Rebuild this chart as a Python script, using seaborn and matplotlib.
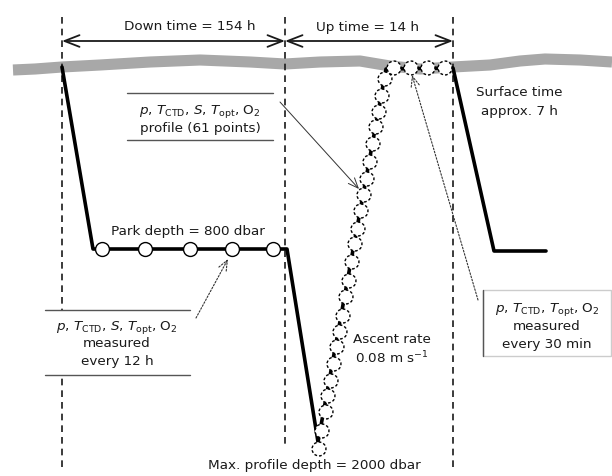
import seaborn as sns
import matplotlib.pyplot as plt
from matplotlib.patches import Rectangle

# Schematic coordinates (diagram units, y grows downward)
# Float track: descent, park, descent to max depth, ascent, surface, next descent
track_x = [62, 93, 287, 318, 386, 453, 494, 546]
track_y = [68, 250, 250, 443, 70, 69, 252, 252]

# Park-phase samples (every 12 h)
park_x = [102, 145, 190, 232, 273]
park_y = [250, 250, 250, 250, 250]

# Ascent profile samples
ascent_x = [319, 322, 326, 328, 331, 334, 337, 340, 343, 346, 349, 352,
            355, 358, 361, 364, 367, 370, 373, 376, 379, 382, 385]
ascent_y = [450, 432, 413, 397, 382, 365, 348, 333, 317, 298, 282, 263,
            245, 230, 212, 196, 180, 163, 145, 128, 113, 97, 80]

# Surface samples (every 30 min)
surf_x = [394, 411, 428, 445]
surf_y = [69, 69, 69, 69]

# Sea surface
sea_x = [13, 35, 62, 100, 150, 200, 250, 285, 320, 360, 390, 420, 453, 490, 520, 545, 580, 612]
sea_y = [71, 70, 68, 66, 63, 61, 63, 65, 63, 62, 67, 70, 68, 66, 62, 60, 61, 63]

# Phase boundaries
phase_x = [62, 285, 453]
phase_bottom = [473, 448, 470]

params_full = r"$p$, $T_{\rm CTD}$, $S$, $T_{\rm opt}$, O$_2$"
params_surf = r"$p$, $T_{\rm CTD}$, $T_{\rm opt}$, O$_2$"

sns.set_theme(style='white')
plt.rcParams['font.family'] = ['DejaVu Sans']
plt.rcParams['mathtext.fontset'] = 'dejavusans'

fig = plt.figure(figsize=(6.12, 4.77), dpi=100)
ax = fig.add_axes([0, 0, 1, 1])
ax.set_xlim(0, 612)
ax.set_ylim(477, 0)
ax.axis('off')

txt = dict(color='#1a1a1a', fontsize=9.7, ha='center', va='center', zorder=6)

# Sea surface band
sns.lineplot(x=sea_x, y=sea_y, sort=False, estimator=None, color='#a8a8a8',
             lw=8, ax=ax, zorder=1, solid_capstyle='butt')

# Phase boundaries
for xv, yb in zip(phase_x, phase_bottom):
    ax.plot([xv, xv], [18, yb], color='#1a1a1a', lw=1.2, ls=(0, (4, 3)), zorder=2)

# Duration arrows
ax.annotate('', xy=(62, 42), xytext=(285, 42),
            arrowprops=dict(arrowstyle='<->,head_length=0.9,head_width=0.35',
                            lw=1.3, color='#1a1a1a', shrinkA=0, shrinkB=0))
ax.annotate('', xy=(285, 42), xytext=(453, 42),
            arrowprops=dict(arrowstyle='<->,head_length=0.9,head_width=0.35',
                            lw=1.3, color='#1a1a1a', shrinkA=0, shrinkB=0))
ax.text(190, 27, 'Down time = 154 h', **txt)
ax.text(367, 27, 'Up time = 14 h', **txt)

# Float track
sns.lineplot(x=track_x, y=track_y, sort=False, estimator=None, color='black',
             lw=2.6, ax=ax, zorder=3)
ax.lines[-1].set_solid_joinstyle('round')

# Samples
sns.scatterplot(x=park_x, y=park_y, s=100, color='white', edgecolor='black',
                linewidth=1.0, ax=ax, zorder=4)
sns.scatterplot(x=ascent_x + surf_x, y=ascent_y + surf_y, s=100, color='white',
                edgecolor='black', linewidth=1.0, ax=ax, zorder=4)
ax.collections[-1].set_linestyle((0, (2, 1.5)))

# Profile label box
ax.plot([127, 273], [94, 94], color='#555555', lw=1)
ax.plot([127, 273], [141, 141], color='#555555', lw=1)
ax.text(200, 112, params_full, **txt)
ax.text(200, 129, 'profile (61 points)', **txt)
ax.annotate('', xy=(359, 190), xytext=(280, 103),
            arrowprops=dict(arrowstyle='->,head_length=0.6,head_width=0.25',
                            lw=0.7, color='#333333', shrinkA=0, shrinkB=0))

# Park label
ax.text(188, 232, 'Park depth = 800 dbar', **txt)

# Park measurement box (white fill hides the phase line)
ax.add_patch(Rectangle((45, 311), 145, 65, fc='white', ec='none', zorder=5))
ax.plot([45, 190], [311, 311], color='#555555', lw=1, zorder=5)
ax.plot([45, 190], [376, 376], color='#555555', lw=1, zorder=5)
ax.text(117, 327, params_full, **txt)
ax.text(117, 344, 'measured', **txt)
ax.text(117, 362, 'every 12 h', **txt)
ax.annotate('', xy=(228, 260), xytext=(196, 319),
            arrowprops=dict(arrowstyle='->,head_length=0.6,head_width=0.25',
                            lw=0.8, ls=(0, (1.5, 1.5)), color='#333333',
                            shrinkA=0, shrinkB=0))

# Ascent rate
ax.text(392, 340, 'Ascent rate', **txt)
ax.text(392, 358, r'0.08 m s$^{-1}$', **txt)

# Surface time
ax.text(519, 92, 'Surface time', **txt)
ax.text(519, 111, 'approx. 7 h', **txt)

# Surface measurement box
ax.add_patch(Rectangle((483, 291), 128, 66, fill=False, ec='#cccccc', lw=1))
ax.plot([483, 483], [291, 357], color='#555555', lw=1)
ax.text(547, 310, params_surf, **txt)
ax.text(547, 327, 'measured', **txt)
ax.text(547, 345, 'every 30 min', **txt)
ax.annotate('', xy=(412, 76), xytext=(478, 301),
            arrowprops=dict(arrowstyle='->,head_length=0.6,head_width=0.25',
                            lw=0.8, ls=(0, (1.5, 1.5)), color='#333333',
                            shrinkA=0, shrinkB=0))

# Max depth
ax.text(314, 466, 'Max. profile depth = 2000 dbar', **txt)

fig.savefig('out.png', dpi=100, facecolor='white')
